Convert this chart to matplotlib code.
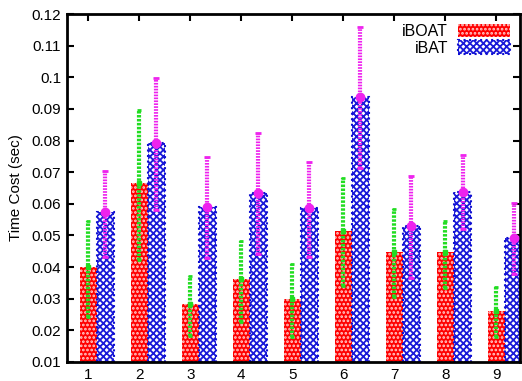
import matplotlib
matplotlib.use("Agg")
import matplotlib.pyplot as plt
import numpy as np

categories = [1, 2, 3, 4, 5, 6, 7, 8, 9]
iboat_mean = [0.0399, 0.0665, 0.0282, 0.0361, 0.0298, 0.0515, 0.0448, 0.0447, 0.0261]
iboat_low = [0.0243, 0.0422, 0.0183, 0.0227, 0.0180, 0.0340, 0.0306, 0.0335, 0.0180]
iboat_high = [0.0546, 0.0896, 0.0372, 0.0482, 0.0410, 0.0681, 0.0583, 0.0547, 0.0338]
ibat_mean = [0.0574, 0.0791, 0.0591, 0.0633, 0.0586, 0.0937, 0.0530, 0.0638, 0.0493]
ibat_low = [0.0433, 0.0580, 0.0430, 0.0441, 0.0433, 0.0712, 0.0366, 0.0519, 0.0378]
ibat_high = [0.0705, 0.0997, 0.0747, 0.0825, 0.0733, 0.1160, 0.0689, 0.0754, 0.0602]

plt.rcParams['font.family'] = ['Liberation Sans', 'DejaVu Sans']
plt.rcParams['hatch.linewidth'] = 1.3

fig = plt.figure(figsize=(5.22, 3.81), dpi=100)
ax = fig.add_axes([0.128, 0.05, 0.868, 0.913])

x = np.array(categories, dtype=float)
w = 0.34
bw = 0.33

b1 = ax.bar(x, np.array(iboat_mean) - 0.01, bottom=0.01, width=w, color='#ff0000',
            edgecolor='#ff0000', linewidth=0, label='iBOAT', zorder=2)
for p in b1:
    p.set_hatch('....')
    p._hatch_color = (1, 1, 1, 0.8)
b2 = ax.bar(x + w / 2 + bw / 2, np.array(ibat_mean) - 0.01, bottom=0.01, width=bw,
            facecolor='white', edgecolor='#1010d0', linewidth=1.5, linestyle=':',
            label='iBAT', zorder=2)
for p in b2:
    p.set_hatch('xxxxx')
    p._hatch_color = (0.1, 0.1, 0.85, 1)

im = np.array(iboat_mean)
eg = ax.errorbar(x, im, yerr=[im - np.array(iboat_low), np.array(iboat_high) - im],
                 fmt='s', color='#22dd22', ms=3.5, elinewidth=3, capsize=1.5, capthick=2,
                 linestyle='none', zorder=3)
eg[2][0].set_linestyle((0, (0.6, 0.35)))
bm = np.array(ibat_mean)
eb = ax.errorbar(x + w / 2 + bw / 2, bm, yerr=[bm - np.array(ibat_low), np.array(ibat_high) - bm],
                 fmt='o', color='#ee22ee', ms=6, elinewidth=3, capsize=2, capthick=2,
                 linestyle='none', zorder=3)
eb[2][0].set_linestyle((0, (0.4, 0.3)))

ax.set_xlim(0.58, 9.46)
ax.set_ylim(0.01, 0.12)
ax.set_xticks(categories)
ax.set_xticklabels([str(c) for c in categories])
ax.set_yticks(np.arange(0.01, 0.1201, 0.01))
ax.set_yticklabels(['0.01', '0.02', '0.03', '0.04', '0.05', '0.06', '0.07', '0.08', '0.09', '0.1', '0.11', '0.12'])
ax.tick_params(direction='in', top=True, right=True, length=5, width=1.5, labelsize=11, pad=4)
for s in ax.spines.values():
    s.set_linewidth(2)
ax.set_ylabel('Time Cost (sec)', fontsize=11, labelpad=6)

leg = ax.legend(handles=[b1, b2], loc='upper right', frameon=False, markerfirst=False,
                fontsize=11.5, handlelength=3.3, handleheight=0.9, borderaxespad=0.2,
                labelspacing=0.1, handletextpad=0.6)

fig.savefig('out.png', dpi=100)
